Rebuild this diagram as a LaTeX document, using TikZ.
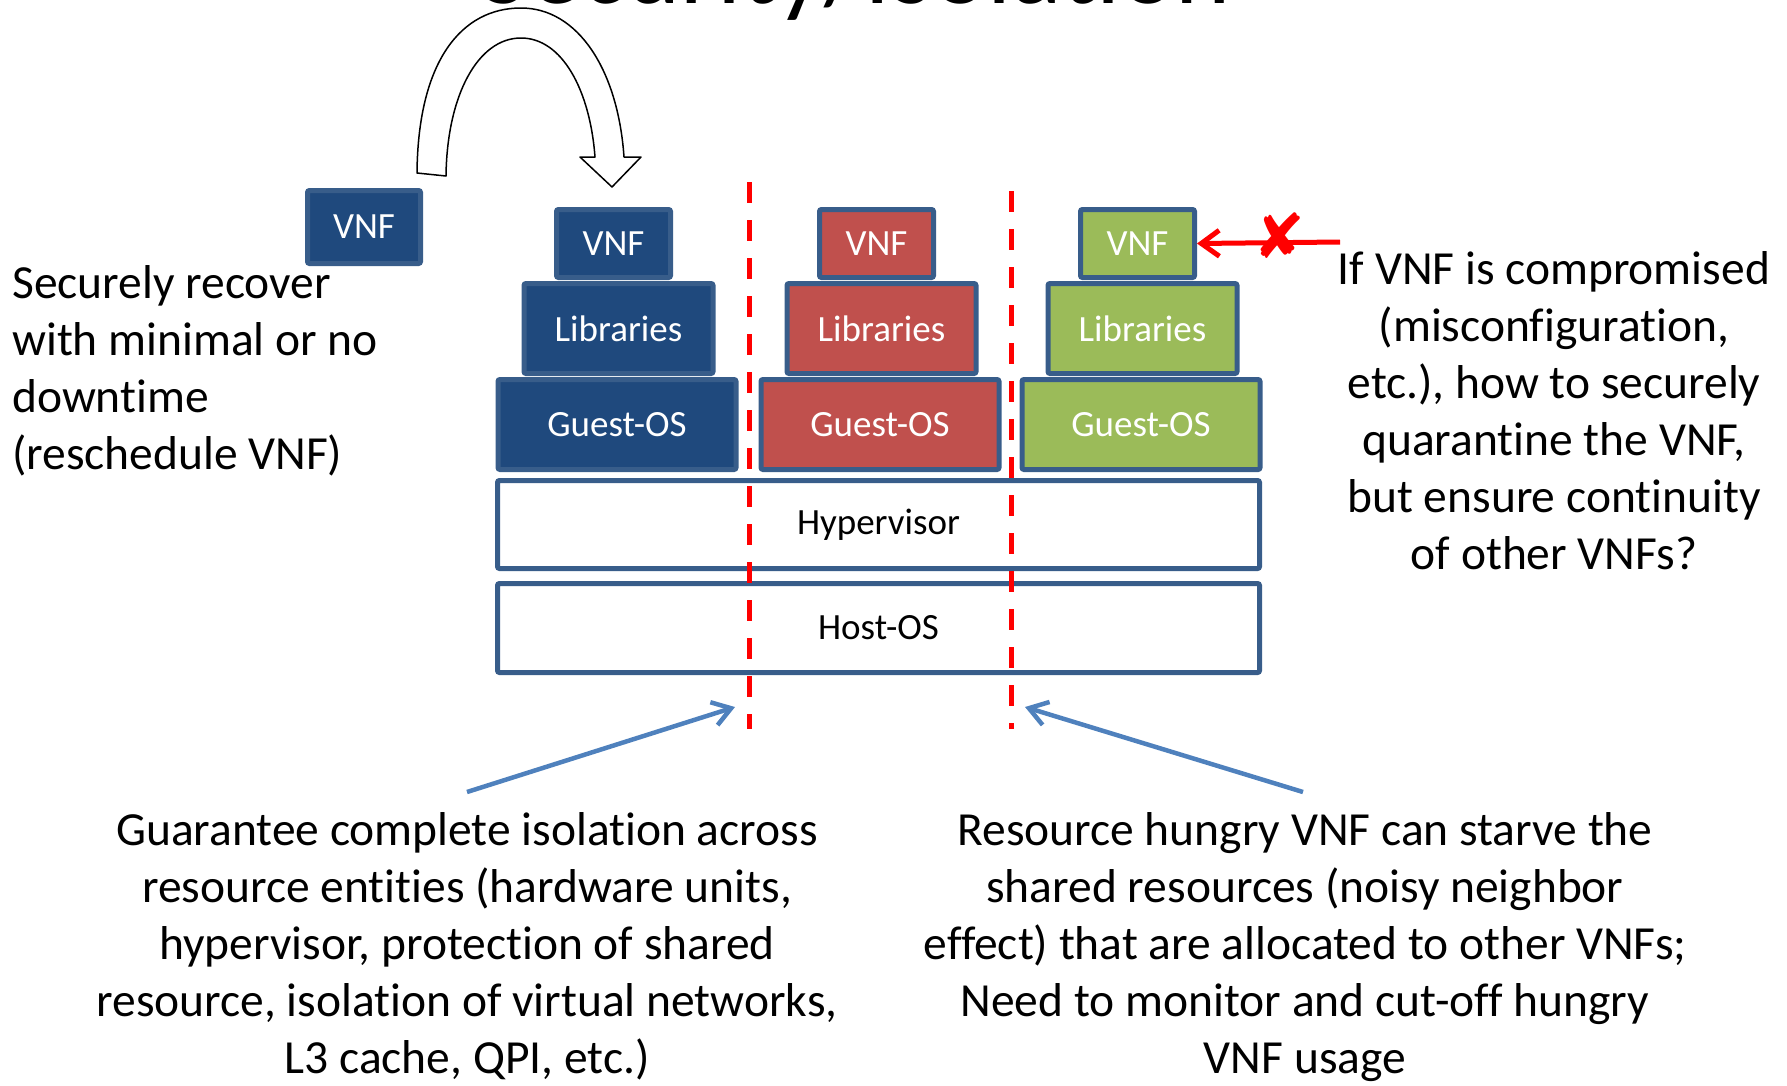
\documentclass[tikz,border=0pt]{standalone}
\usepackage{fontspec}
\setmainfont{Carlito}[Ligatures=NoCommon]
\newfontfamily\crossfont{DejaVu Sans}
\usetikzlibrary{arrows.meta}
\definecolor{vnfblue}{HTML}{1F497D}
\definecolor{vnfred}{HTML}{C0504D}
\definecolor{vnfgreen}{HTML}{9BBB59}
\definecolor{vnfedge}{HTML}{385D8A}
\definecolor{hintblue}{HTML}{4F81BD}
\newcommand\stacklabel{\fontsize{37pt}{44pt}\selectfont}
\newcommand\notetext{\fontsize{47.5pt}{57pt}\selectfont}

\begin{document}
\begin{tikzpicture}[x=1pt,y=-1pt,
  stackbox/.style={draw=vnfedge,line width=5pt,rounded corners=2pt,text=white,font=\stacklabel,inner sep=0pt},
  baseplate/.style={draw=vnfedge,fill=white,line width=5pt,rounded corners=2pt,font=\stacklabel,minimum width=762pt,inner sep=0pt},
  isoline/.style={red,line width=5pt,dash pattern=on 21pt off 17pt},
  hint/.style={hintblue,line width=4.5pt,-{Straight Barb[length=18pt,width=24pt]}},
  notebox/.style={font=\notetext,align=center,inner sep=0pt,anchor=base}]
  \useasboundingbox (0,0) rectangle (1787,1085);
  \clip (0,0) rectangle (1787,1085);
  \node[font=\fontsize{105pt}{120pt}\selectfont,anchor=base,inner sep=0pt] (title) at (856,3) {Security/Isolation};

  % VNF waiting to be moved back in
  \node[stackbox,fill=vnfblue,minimum width=113pt,minimum height=73pt] (spare) at (364,227) {VNF};
  \draw[line width=1.5pt,fill=white,line join=round]
    (417,173) .. controls (418,60) and (462,8) .. (521,8)
    .. controls (578,8) and (618,70) .. (624,157) -- (641,157) -- (612,187) -- (580,157) -- (595,157)
    .. controls (590,90) and (562,38) .. (521,38)
    .. controls (478,38) and (447,95) .. (446,176) -- cycle;

  \foreach \s/\cx/\col in {a/617/vnfblue,b/880/vnfred,c/1141/vnfgreen} {
    \node[stackbox,fill=\col,minimum width=114pt,minimum height=68pt] (vnf\s) at (\cx-3.5,243.5) {VNF};
    \node[stackbox,fill=\col,minimum width=189pt,minimum height=90pt] (lib\s) at (\cx+1.5,328.5) {Libraries};
    \node[stackbox,fill=\col,minimum width=238pt,minimum height=90pt] (guest\s) at (\cx,424.5) {Guest-OS};
  }
  \node[baseplate,minimum height=88pt] (hyper) at (878.5,524.5) {Hypervisor};
  \node[baseplate,minimum height=89pt] (host) at (878.5,628) {Host-OS};

  \draw[isoline] (749,182) -- (749,729);
  \draw[isoline] (1011,191) -- (1011,729);

  \coordinate (cutoff) at (1340,242);
  \draw[red,line width=5pt,-{Straight Barb[length=18pt,width=26pt]}] (cutoff) -- (vnfc.east);
  \node[text=red,font=\crossfont\fontsize{62pt}{62pt}\selectfont,inner sep=0pt] (cross) at (1279,236) {✘};

  \coordinate (isotail) at (467,792);
  \coordinate (isotip) at (735,707);
  \coordinate (hungrytail) at (1303,792);
  \coordinate (hungrytip) at (1025,707);
  \draw[hint] (isotail) -- (isotip);
  \draw[hint] (hungrytail) -- (hungrytip);

  % multi-line nodes: base = last line
  \node[font=\notetext,align=left,inner sep=0pt,anchor=base west] (recover) at (12,469)
    {Securely recover\\with minimal or no\\downtime\\(reschedule VNF)};
  \node[notebox] (quarantine) at (1554,569)
    {If VNF is compromised\\(misconfiguration,\\etc.), how to securely\\quarantine the VNF,\\but ensure continuity\\of other VNFs?};
  \node[notebox] (isolation) at (467,1073)
    {Guarantee complete isolation across\\resource entities (hardware units,\\hypervisor, protection of shared\\resource, isolation of virtual networks,\\L3 cache, QPI, etc.)};
  \node[notebox] (hungry) at (1305,1073)
    {Resource hungry VNF can starve the\\shared resources (noisy neighbor\\effect) that are allocated to other VNFs;\\Need to monitor and cut-off hungry\\VNF usage};
\end{tikzpicture}
\end{document}
